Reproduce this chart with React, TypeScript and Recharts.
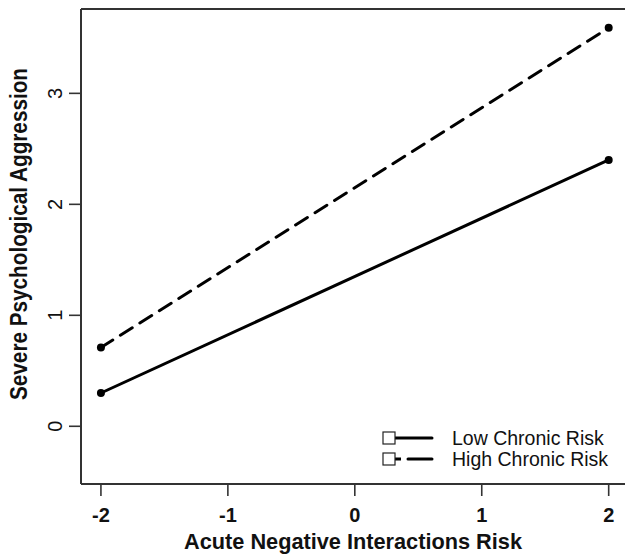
import React from 'react';
import { LineChart, Line, XAxis, YAxis, ReferenceLine, Legend } from 'recharts';

const xValues = [-2, 2];
const lowChronicRisk = [0.3, 2.4];
const highChronicRisk = [0.71, 3.59];
const seriesNames = ['Low Chronic Risk', 'High Chronic Risk'];
const xTicks = [-2, -1, 0, 1, 2];
const yTicks = [0, 1, 2, 3];
const xDomain = [-2.157, 2.16];
const yDomain = [-0.52, 3.76];
const xTitle = 'Acute Negative Interactions Risk';
const yTitle = 'Severe Psychological Aggression';

const data = xValues.map((x, i) => ({ x, low: lowChronicRisk[i], high: highChronicRisk[i] }));

const FONT = 'Liberation Sans, Arial, sans-serif';
const AXIS = '#333';

const XTick = (props: any) => {
  const { x, y, payload } = props;
  return (
    <text x={x} y={y + 23.5} textAnchor="middle" fontFamily={FONT} fontWeight="bold" fontSize={20} fill="#111">
      {payload.value}
    </text>
  );
};

const YTick = (props: any) => {
  const { x, y, payload } = props;
  const bx = x - 5;
  return (
    <text x={bx} y={y} textAnchor="middle" transform={`rotate(-90, ${bx}, ${y})`} fontFamily={FONT} fontSize={20} fill="#111">
      {payload.value}
    </text>
  );
};

const XTitle = (props: any) => {
  const { viewBox } = props;
  const cx = viewBox.x + viewBox.width / 2 - 2;
  const y = viewBox.y + 65;
  return (
    <text x={cx} y={y} textAnchor="middle" fontFamily={FONT} fontWeight="bold" fontSize={22.5} fill="#111" textLength={338} lengthAdjust="spacingAndGlyphs">
      {xTitle}
    </text>
  );
};

const YTitle = () => {
  const bx = 27;
  const cy = 234;
  return (
    <text x={bx} y={cy} textAnchor="middle" transform={`rotate(-90, ${bx}, ${cy})`} fontFamily={FONT} fontWeight="bold" fontSize={24} fill="#111" textLength={332} lengthAdjust="spacingAndGlyphs">
      {yTitle}
    </text>
  );
};

const renderLegend = (props: any) => {
  const payload = props.payload || [];
  const items = seriesNames.map((name) => payload.find((p: any) => p.value === name) || { value: name });
  return (
    <svg width={250} height={48} style={{ display: 'block' }}>
      {items.map((item: any, i: number) => {
        const cy = 12 + i * 21;
        const dashed = item.payload && item.payload.strokeDasharray;
        return (
          <g key={i}>
            {dashed ? (
              <>
                <line x1={20} y1={cy} x2={26} y2={cy} stroke="#000" strokeWidth={3} />
                <line x1={33} y1={cy} x2={57} y2={cy} stroke="#000" strokeWidth={3} strokeLinecap="round" />
              </>
            ) : (
              <line x1={20} y1={cy} x2={57} y2={cy} stroke="#000" strokeWidth={3} strokeLinecap="round" />
            )}
            <rect x={8} y={cy - 6} width={12} height={12} fill="#fff" stroke="#222" strokeWidth={1.2} />
            <text x={77} y={cy + 7} fontFamily={FONT} fontSize={19.5} fill="#111">
              {item.value}
            </text>
          </g>
        );
      })}
    </svg>
  );
};

export default function App() {
  return (
    <div style={{ position: 'absolute', left: 0, top: 0, width: 625, height: 558, overflow: 'hidden', background: '#fff' }}>
      <LineChart width={660} height={558} data={data} margin={{ top: 9, right: 31, bottom: 54, left: 61 }}>
        <XAxis
          dataKey="x"
          type="number"
          domain={xDomain}
          ticks={xTicks}
          height={20}
          tickSize={12}
          tickLine={{ stroke: AXIS, strokeWidth: 1.6 }}
          axisLine={{ stroke: AXIS, strokeWidth: 2 }}
          tick={<XTick />}
          allowDataOverflow
          label={<XTitle />}
        />
        <YAxis
          type="number"
          domain={yDomain}
          ticks={yTicks}
          width={20}
          tickSize={12}
          tickLine={{ stroke: AXIS, strokeWidth: 1.6 }}
          axisLine={{ stroke: AXIS, strokeWidth: 2 }}
          tick={<YTick />}
          allowDataOverflow
          label={<YTitle />}
        />
        <ReferenceLine y={yDomain[1]} stroke={AXIS} strokeWidth={2} />
        <Line
          dataKey="low"
          name={seriesNames[0]}
          stroke="#000"
          strokeWidth={3}
          dot={{ r: 4, fill: '#000', stroke: '#000', strokeWidth: 0 }}
          isAnimationActive={false}
        />
        <Line
          dataKey="high"
          name={seriesNames[1]}
          stroke="#000"
          strokeWidth={3}
          strokeDasharray="14 9"
          strokeLinecap="round"
          dot={{ r: 4, fill: '#000', stroke: '#000', strokeWidth: 0, strokeDasharray: '' }}
          isAnimationActive={false}
        />
        <Legend
          layout="vertical"
          align="center"
          verticalAlign="middle"
          content={renderLegend}
          wrapperStyle={{ position: 'absolute', left: 375, top: 426, width: 250, height: 48 }}
        />
      </LineChart>
    </div>
  );
}
